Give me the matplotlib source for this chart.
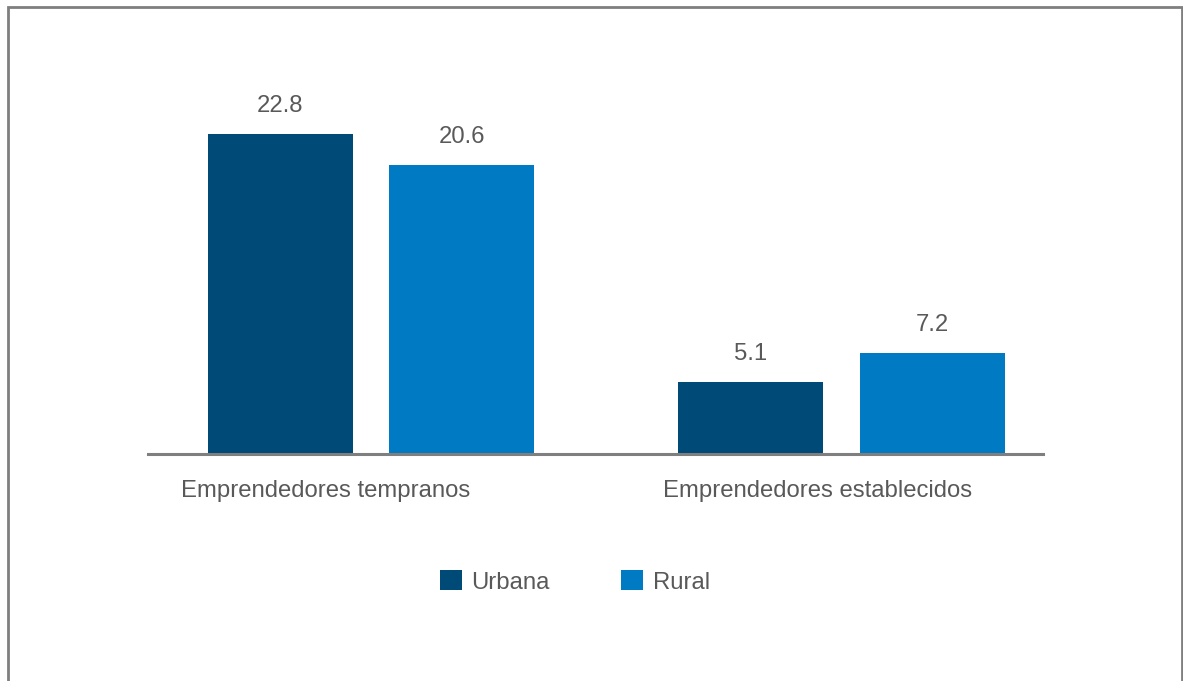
import numpy as np
import matplotlib.pyplot as plt
from matplotlib.patches import Rectangle

plt.rcParams['font.family'] = ['Liberation Sans', 'DejaVu Sans']

categorias = ['Emprendedores tempranos', 'Emprendedores establecidos']
urbana = [22.8, 5.1]
rural = [20.6, 7.2]
series = ['Urbana', 'Rural']
colores = ['#004A77', '#007AC2']
gris = '#595959'
fs = 17.2

fig = plt.figure(figsize=(11.83, 6.81), dpi=100)
# marco exterior (sin borde inferior visible)
fig.patches.append(Rectangle((8/1183, -0.05), 1174/1183, 1.05 - 7/681,
                             transform=fig.transFigure, fill=False,
                             edgecolor='#7f7f7f', linewidth=2.0))

ax = fig.add_axes([148/1183, 227/681, 895/1183, 394/681])
x = np.arange(len(categorias))
w = 0.308
off = 0.193
b1 = ax.bar(x - off, urbana, w, color=colores[0], label=series[0])
b2 = ax.bar(x + off, rural, w, color=colores[1], label=series[1])

for barras in (b1, b2):
    for r in barras:
        ax.text(r.get_x() + r.get_width()/2, r.get_height() + 1.25,
                f'{r.get_height():.1f}', ha='center', va='bottom',
                fontsize=fs, color=gris)

ax.set_xlim(-0.474, 1.428)
ax.set_ylim(0, 28.1)
ax.set_yticks([])
ax.set_xticks(x - np.array([0.096, 0.052]))
ax.set_xticklabels(categorias, fontsize=fs, color=gris)
ax.tick_params(axis='x', length=0, pad=19)
for s in ['top', 'right', 'left']:
    ax.spines[s].set_visible(False)
ax.spines['bottom'].set_color('#7f7f7f')
ax.spines['bottom'].set_linewidth(2.2)

fig.legend(loc='center', bbox_to_anchor=(575/1183, 1 - 582/681), ncol=2,
           frameon=False, fontsize=fs, labelcolor=gris, handlelength=0.9,
           handleheight=0.9, handletextpad=0.4, columnspacing=3.0)

plt.savefig('out.png', dpi=100)
